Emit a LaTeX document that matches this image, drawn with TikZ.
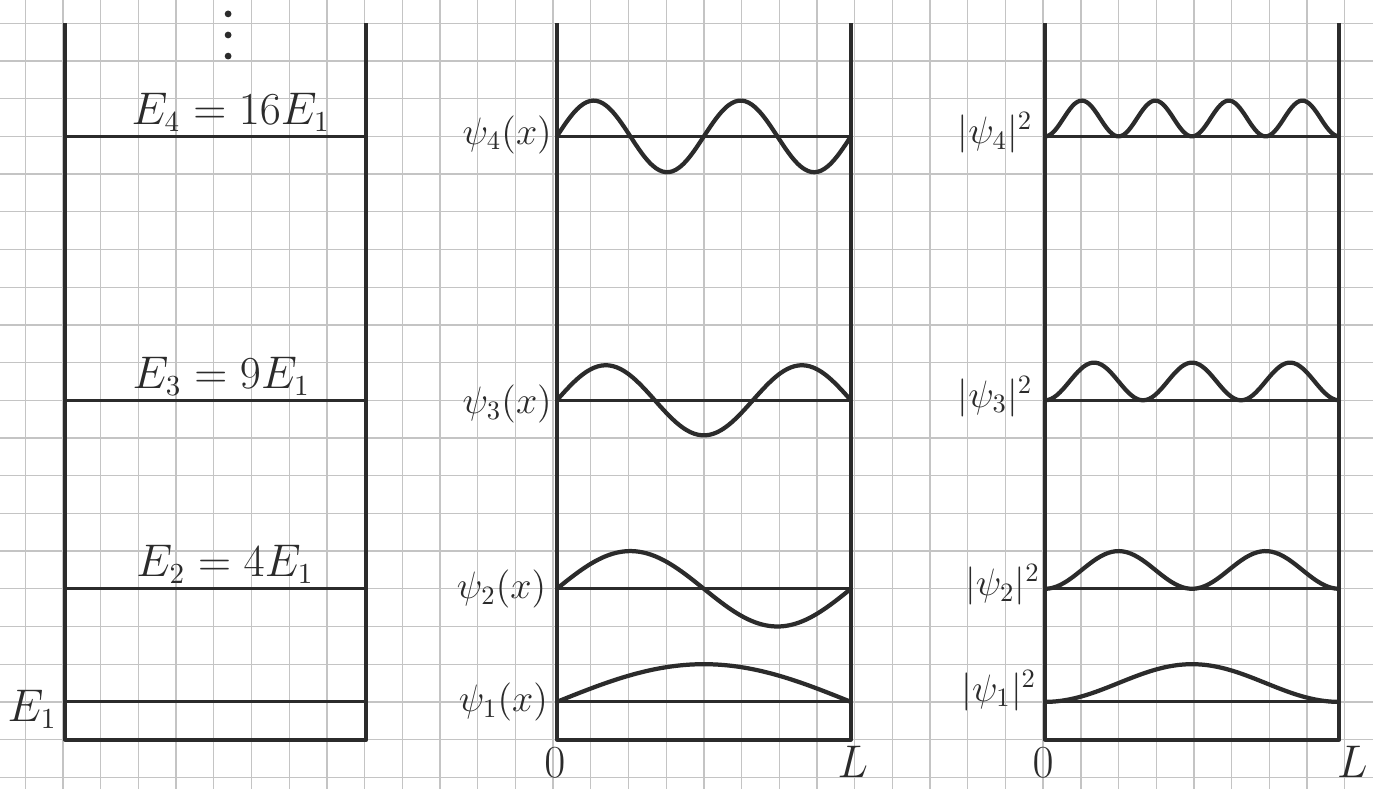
\documentclass[tikz,border=0pt]{standalone}
\usetikzlibrary{positioning}
\definecolor{ink}{HTML}{2B2B2B}
\definecolor{gridline}{HTML}{C4C4C4}
\definecolor{paper}{HTML}{FFFFFF}

\begin{document}
\begin{tikzpicture}[
  x=0.5cm, y=0.5cm,
  font=\fontsize{16}{19}\selectfont,
  text=ink,
  squares/.style={draw=gridline, line width=0.5pt, step=0.5cm},
  wall/.style={draw=ink, line width=1.5pt, line join=round},
  level/.style={draw=ink, line width=1.2pt},
  wave/.style={draw=ink, line width=1.6pt, line join=round},
  label/.style={inner sep=1pt},
  small/.style={label, font=\fontsize{14}{17}\selectfont}
]

% Paper and squares
\useasboundingbox[fill=paper] (-0.671,-20.31) rectangle (35.75,0.618);
\draw[squares] (-0.671,-20.31) grid (35.75,0.618);

% Energy levels
\draw[wall] (1.05,0) -- (1.05,-19) -- (9.05,-19) -- (9.05,0);
\draw[level] (1.05,-3) -- (9.05,-3);
\draw[level] (1.05,-10) -- (9.05,-10);
\draw[level] (1.05,-15) -- (9.05,-15);
\draw[level] (1.05,-18) -- (9.05,-18);
\fill[ink] (5.38,0.25) circle (0.09);
\fill[ink] (5.38,-0.31) circle (0.09);
\fill[ink] (5.38,-0.87) circle (0.09);

\node[label, anchor=south] (efour) at (5.45,-2.95) {$E_4 = 16E_1$};
\node[label, anchor=south] (ethree) at (5.2,-9.95) {$E_3 = 9E_1$};
\node[label, anchor=south] (etwo) at (5.3,-14.95) {$E_2 = 4E_1$};
\node[label, anchor=west] (eone) at (-0.55,-18.2) {$E_1$};

% Wave functions
\draw[wall] (14.1,0) -- (14.1,-19) -- (21.9,-19) -- (21.9,0);
\draw[level] (14.1,-3) -- (21.9,-3);
\draw[level] (14.1,-10) -- (21.9,-10);
\draw[level] (14.1,-15) -- (21.9,-15);
\draw[level] (14.1,-18) -- (21.9,-18);
\draw[wave] plot[domain=0:1, samples=90, smooth] ({14.1+7.8*\x},{-3+0.95*sin(720*\x)});
\draw[wave] plot[domain=0:1, samples=80, smooth] ({14.1+7.8*\x},{-10+0.93*sin(540*\x)});
\draw[wave] plot[domain=0:1, samples=60, smooth] ({14.1+7.8*\x},{-15+1.0*sin(360*\x)});
\draw[wave] plot[domain=0:1, samples=40, smooth] ({14.1+7.8*\x},{-18+1.0*sin(180*\x)});

\node[small, anchor=east] (psifour) at (14.05,-2.95) {$\psi_4(x)$};
\node[small, anchor=east] (psithree) at (14.05,-10.1) {$\psi_3(x)$};
\node[small, anchor=east] (psitwo) at (13.9,-15.0) {$\psi_2(x)$};
\node[small, anchor=east] (psione) at (13.95,-18.0) {$\psi_1(x)$};
\node[label, anchor=south] (zeroa) at (14.05,-20.1) {$0$};
\node[label, anchor=south] (lena) at (21.95,-20.1) {$L$};

% Probability densities
\draw[wall] (27.05,0) -- (27.05,-19) -- (34.85,-19) -- (34.85,0);
\draw[level] (27.05,-3) -- (34.85,-3);
\draw[level] (27.05,-10) -- (34.85,-10);
\draw[level] (27.05,-15) -- (34.85,-15);
\draw[level] (27.05,-18) -- (34.85,-18);
\draw[wave] plot[domain=0:1, samples=120, smooth] ({27.05+7.8*\x},{-3+0.95*sin(720*\x)^2});
\draw[wave] plot[domain=0:1, samples=100, smooth] ({27.05+7.8*\x},{-10+1.0*sin(540*\x)^2});
\draw[wave] plot[domain=0:1, samples=80, smooth] ({27.05+7.8*\x},{-15+1.0*sin(360*\x)^2});
\draw[wave] plot[domain=0:1, samples=60, smooth] ({27.05+7.8*\x},{-18+1.0*sin(180*\x)^2});

\node[small, anchor=east] (densfour) at (26.8,-2.9) {$|\psi_4|^2$};
\node[small, anchor=east] (densthree) at (26.8,-9.9) {$|\psi_3|^2$};
\node[small, anchor=east] (denstwo) at (27.0,-14.9) {$|\psi_2|^2$};
\node[small, anchor=east] (densone) at (26.9,-17.7) {$|\psi_1|^2$};
\node[label, anchor=south] (zerob) at (27.0,-20.1) {$0$};
\node[label, anchor=south] (lenb) at (35.2,-20.1) {$L$};

\end{tikzpicture}
\end{document}
